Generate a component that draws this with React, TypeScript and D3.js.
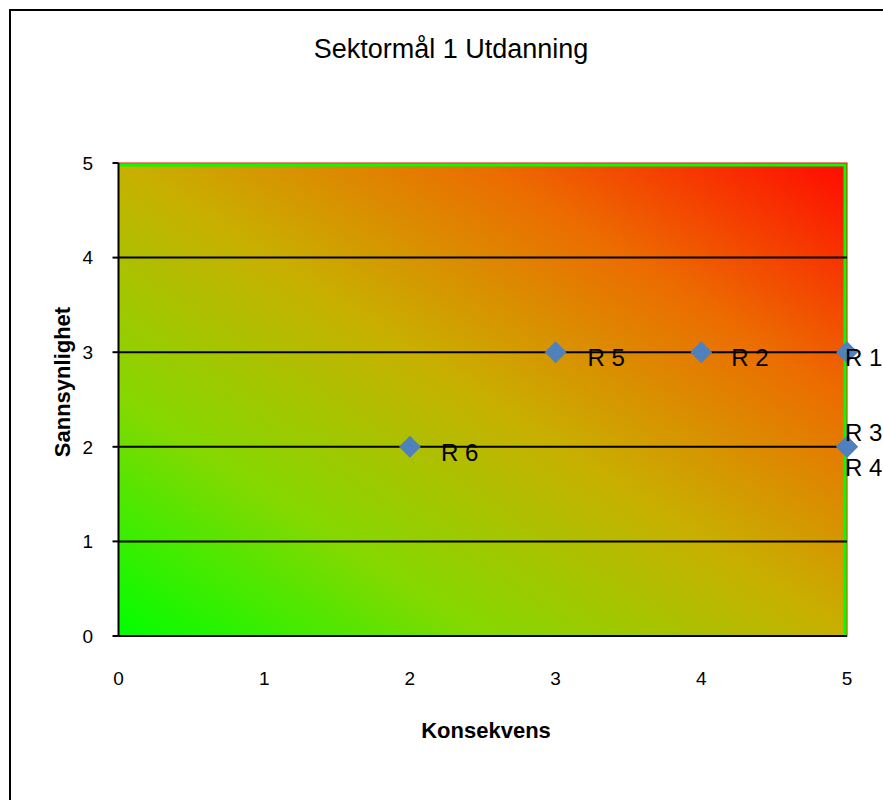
import React, { useEffect, useRef } from 'react';
import * as d3 from 'd3';

const xTicks = [0, 1, 2, 3, 4, 5];
const yTicks = [0, 1, 2, 3, 4, 5];
const riskLabels = ['R 1', 'R 2', 'R 3', 'R 4', 'R 5', 'R 6'];
const konsekvens = [5, 4, 5, 5, 3, 2];
const sannsynlighet = [3, 3, 2, 2, 3, 2];

// where Excel put each label relative to its marker
const labelOffsets: Record<string, [number, number]> = {
    'R 1': [-2, 14],
    'R 2': [30, 14],
    'R 3': [-2, -6],
    'R 4': [-2, 29],
    'R 5': [32, 14],
    'R 6': [31, 14],
};

const App: React.FC = () => {
    const svgRef = useRef<SVGSVGElement>(null);

    useEffect(() => {
        if (!svgRef.current) return;
        const svg = d3.select(svgRef.current);
        svg.selectAll('*').remove();

        const width = 883;
        const height = 800;
        const left = 118.5, right = 847, top = 163, bottom = 636;
        const font = 'Liberation Sans, Arial, sans-serif';

        const x = d3.scaleLinear().domain([0, 5]).range([left, right]);
        const y = d3.scaleLinear().domain([0, 5]).range([bottom, top]);

        svg.attr('width', width).attr('height', height);

        // background + chart border
        svg.append('rect').attr('width', width).attr('height', height).attr('fill', '#fff');
        svg.append('rect')
            .attr('x', 10).attr('y', 10)
            .attr('width', width + 20).attr('height', height + 20)
            .attr('fill', 'none')
            .attr('stroke', '#000')
            .attr('stroke-width', 2);

        // gradient plot area
        const defs = svg.append('defs');
        const grad = defs.append('linearGradient')
            .attr('id', 'riskGrad')
            .attr('x1', 0).attr('y1', 1).attr('x2', 1).attr('y2', 0);
        grad.append('stop').attr('offset', '0%').attr('stop-color', '#00ff00');
        grad.append('stop').attr('offset', '25%').attr('stop-color', '#84d800');
        grad.append('stop').attr('offset', '50%').attr('stop-color', '#c8b000');
        grad.append('stop').attr('offset', '75%').attr('stop-color', '#ec6c00');
        grad.append('stop').attr('offset', '100%').attr('stop-color', '#ff0a00');

        svg.append('rect')
            .attr('x', x(0)).attr('y', y(5))
            .attr('width', x(5) - x(0)).attr('height', y(0) - y(5))
            .attr('fill', 'url(#riskGrad)')
            .attr('stroke', '#ff0000')
            .attr('stroke-width', 1);

        // green edge on top and right
        svg.append('path')
            .attr('d', `M${x(0)},${y(5) + 2}H${x(5) - 2}V${y(0)}`)
            .attr('fill', 'none')
            .attr('stroke', '#00ff00')
            .attr('stroke-width', 3);

        // horizontal gridlines
        svg.selectAll('.grid')
            .data(yTicks.filter(t => t > 0 && t < 5))
            .enter()
            .append('line')
            .attr('x1', x(0)).attr('x2', x(5))
            .attr('y1', d => y(d)).attr('y2', d => y(d))
            .attr('stroke', '#000')
            .attr('stroke-width', 2);

        // axes
        svg.append('line')
            .attr('x1', x(0)).attr('x2', x(0))
            .attr('y1', y(0)).attr('y2', y(5))
            .attr('stroke', '#000').attr('stroke-width', 2);
        svg.append('line')
            .attr('x1', x(0)).attr('x2', x(5))
            .attr('y1', y(0)).attr('y2', y(0))
            .attr('stroke', '#000').attr('stroke-width', 2);

        svg.selectAll('.ytick')
            .data(yTicks)
            .enter()
            .append('line')
            .attr('x1', x(0) - 6).attr('x2', x(0))
            .attr('y1', d => y(d)).attr('y2', d => y(d))
            .attr('stroke', '#000').attr('stroke-width', 2);

        svg.selectAll('.ylab')
            .data(yTicks)
            .enter()
            .append('text')
            .attr('x', 93)
            .attr('y', d => y(d))
            .attr('dy', '0.36em')
            .attr('text-anchor', 'end')
            .style('font-family', font)
            .style('font-size', '19px')
            .text(d => d);

        svg.selectAll('.xlab')
            .data(xTicks)
            .enter()
            .append('text')
            .attr('x', d => x(d))
            .attr('y', 678)
            .attr('dy', '0.36em')
            .attr('text-anchor', 'middle')
            .style('font-family', font)
            .style('font-size', '19px')
            .text(d => d);

        // titles
        svg.append('text')
            .attr('x', 451).attr('y', 58)
            .attr('text-anchor', 'middle')
            .style('font-family', font)
            .style('font-size', '27px')
            .text('Sektormål 1 Utdanning');

        svg.append('text')
            .attr('x', 486).attr('y', 738)
            .attr('text-anchor', 'middle')
            .style('font-family', font)
            .style('font-size', '22px')
            .style('font-weight', 'bold')
            .text('Konsekvens');

        svg.append('text')
            .attr('transform', 'translate(70,382) rotate(-90)')
            .attr('text-anchor', 'middle')
            .style('font-family', font)
            .style('font-size', '22px')
            .style('font-weight', 'bold')
            .text('Sannsynlighet');

        // points
        const pts = riskLabels.map((label, i) => ({
            label,
            k: konsekvens[i],
            s: sannsynlighet[i],
        }));

        const diamond = d3.symbol().type(d3.symbolSquare).size(240);

        svg.selectAll('.pt')
            .data(pts)
            .enter()
            .append('path')
            .attr('d', diamond)
            .attr('transform', d => `translate(${x(d.k)},${y(d.s)}) rotate(45)`)
            .attr('fill', '#4f81bd');

        svg.selectAll('.ptlab')
            .data(pts)
            .enter()
            .append('text')
            .attr('x', d => x(d.k) + labelOffsets[d.label][0])
            .attr('y', d => y(d.s) + labelOffsets[d.label][1])
            .style('font-family', font)
            .style('font-size', '24px')
            .text(d => d.label);
    }, []);

    return <svg ref={svgRef} style={{ display: 'block', position: 'absolute', left: 0, top: 0 }} />;
};

export default App;
